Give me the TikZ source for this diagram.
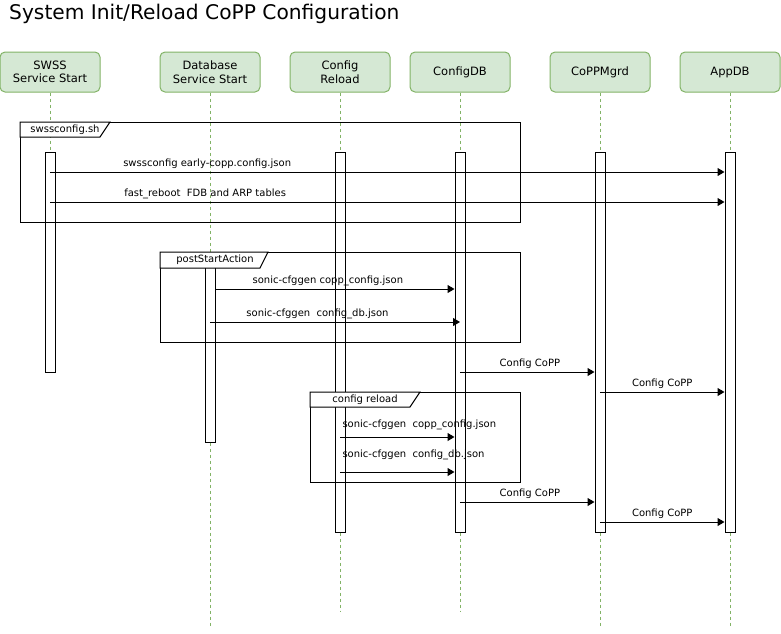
\documentclass[tikz,border=0pt]{standalone}
\usepackage{fontspec}
\setmainfont{DejaVu Sans}
\usetikzlibrary{arrows.meta}
\definecolor{headfill}{HTML}{D5E8D4}
\definecolor{headline}{HTML}{82B366}

\begin{document}
\begin{tikzpicture}[x=1pt,y=-1pt,
  head/.style={draw=headline,fill=headfill,rounded corners=5,line width=1,
    minimum width=100,minimum height=40,align=center,
    font=\fontsize{11.5}{13.5}\selectfont},
  life/.style={draw=headline,line width=0.8,dash pattern=on 3pt off 3pt},
  act/.style={draw,fill=white,line width=1,minimum width=10,inner sep=0},
  frame/.style={draw,line width=1,anchor=north west,inner sep=0},
  tab/.style={draw,fill=white,line width=1},
  tablbl/.style={font=\fontsize{10}{12}\selectfont,inner sep=0},
  msg/.style={draw,line width=1,-{Triangle[length=7pt,width=8pt]}},
  lbl/.style={font=\fontsize{10}{12}\selectfont,inner sep=0}]
  \useasboundingbox (0,0) rectangle (781,633);

  \node [anchor=west,inner sep=0,font=\fontsize{20.2}{23}\selectfont] (title) at (9,14)
    {System Init/Reload CoPP Configuration};

  \path  (50,72)   node[head](sw)  {SWSS\\Service Start}
         (210,72)  node[head](db)  {Database\\Service Start}
         (340,72)  node[head](cr)  {Config\\Reload}
         (460,72)  node[head](cdb) {ConfigDB}
         (600,72)  node[head](cm)  {CoPPMgrd}
         (730,72)  node[head](app) {AppDB};

  \path  (50,262)    node[act,minimum height=220](swA)  {}
         (210,354.5) node[act,minimum height=175](dbA)  {}
         (340,342)   node[act,minimum height=380](crA)  {}
         (460,342)   node[act,minimum height=380](cdbA) {}
         (600,342)   node[act,minimum height=380](cmA)  {}
         (730,342)   node[act,minimum height=380](appA) {};

  \coordinate (dbEnd)  at (210,628);
  \coordinate (crEnd)  at (340,612);
  \coordinate (cdbEnd) at (460,612);
  \coordinate (cmEnd)  at (600,628);
  \coordinate (appEnd) at (730,628);

  \draw [life] (sw) -- (swA);
  \draw [life] (db) -- (dbA);
  \draw [life] (dbA) -- (dbEnd);
  \draw [life] (cr) -- (crA);
  \draw [life] (crA) -- (crEnd);
  \draw [life] (cdb) -- (cdbA);
  \draw [life] (cdbA) -- (cdbEnd);
  \draw [life] (cm) -- (cmA);
  \draw [life] (cmA) -- (cmEnd);
  \draw [life] (app) -- (appA);
  \draw [life] (appA) -- (appEnd);

  \path  (20,122)  node[frame,minimum width=500,minimum height=100](fSwss)   {}
         (160,252) node[frame,minimum width=360,minimum height=90](fPost)    {}
         (310,392) node[frame,minimum width=210,minimum height=90](fReload)  {};

  \draw [tab] (fSwss.north west) -- ++(0,15) -- ++(80,0) -- ++(10,-15) -- cycle;
  \draw [tab] (fPost.north west) -- ++(0,16) -- ++(100,0) -- ++(8,-16) -- cycle;
  \draw [tab] (fReload.north west) -- ++(0,15) -- ++(100,0) -- ++(10,-15) -- cycle;
  \node [tablbl] (tSwss)   at (65,130)  {swssconfig.sh};
  \node [tablbl] (tPost)   at (215,260) {postStartAction};
  \node [tablbl] (tReload) at (365,400) {config reload};

  \coordinate (r1)  at (0,172);
  \coordinate (r2)  at (0,202);
  \coordinate (r3)  at (0,289);
  \coordinate (r4)  at (0,322);
  \coordinate (r5)  at (0,372);
  \coordinate (r6)  at (0,392);
  \coordinate (r7)  at (0,437);
  \coordinate (r8)  at (0,472);
  \coordinate (r9)  at (0,502);
  \coordinate (r10) at (0,522);

  \draw [msg] (swA.center |- r1) to node [lbl,pos=0.233,above=3pt]{swssconfig early-copp.config.json} (appA.west |- r1);
  \draw [msg] (swA.center |- r2) to node [lbl,pos=0.23,above=3pt]{fast\_reboot\ \ FDB and ARP tables} (appA.west |- r2);
  \draw [msg] (dbA.east |- r3) to node [lbl,pos=0.47,above=3pt]{sonic-cfggen copp\_config.json} (cdbA.west |- r3);
  \draw [msg] (dbA.center |- r4) to node [lbl,pos=0.43,above=3pt]{sonic-cfggen\ \ config\_db.json} (cdbA.center |- r4);
  \draw [msg] (cdbA.center |- r5) to node [lbl,pos=0.52,above=3pt]{Config CoPP} (cmA.west |- r5);
  \draw [msg] (cmA.center |- r6) to node [lbl,pos=0.5,above=3pt]{Config CoPP} (appA.west |- r6);
  \draw [msg] (crA.center |- r7) to node [lbl,pos=0,anchor=south west,xshift=2,yshift=7]{sonic-cfggen\ \ copp\_config.json} (cdbA.west |- r7);
  \draw [msg] (crA.center |- r8) to node [lbl,pos=0,anchor=south west,xshift=2,yshift=12]{sonic-cfggen\ \ config\_db.json} (cdbA.west |- r8);
  \draw [msg] (cdbA.center |- r9) to node [lbl,pos=0.52,above=3pt]{Config CoPP} (cmA.west |- r9);
  \draw [msg] (cmA.center |- r10) to node [lbl,pos=0.5,above=3pt]{Config CoPP} (appA.west |- r10);
\end{tikzpicture}
\end{document}
